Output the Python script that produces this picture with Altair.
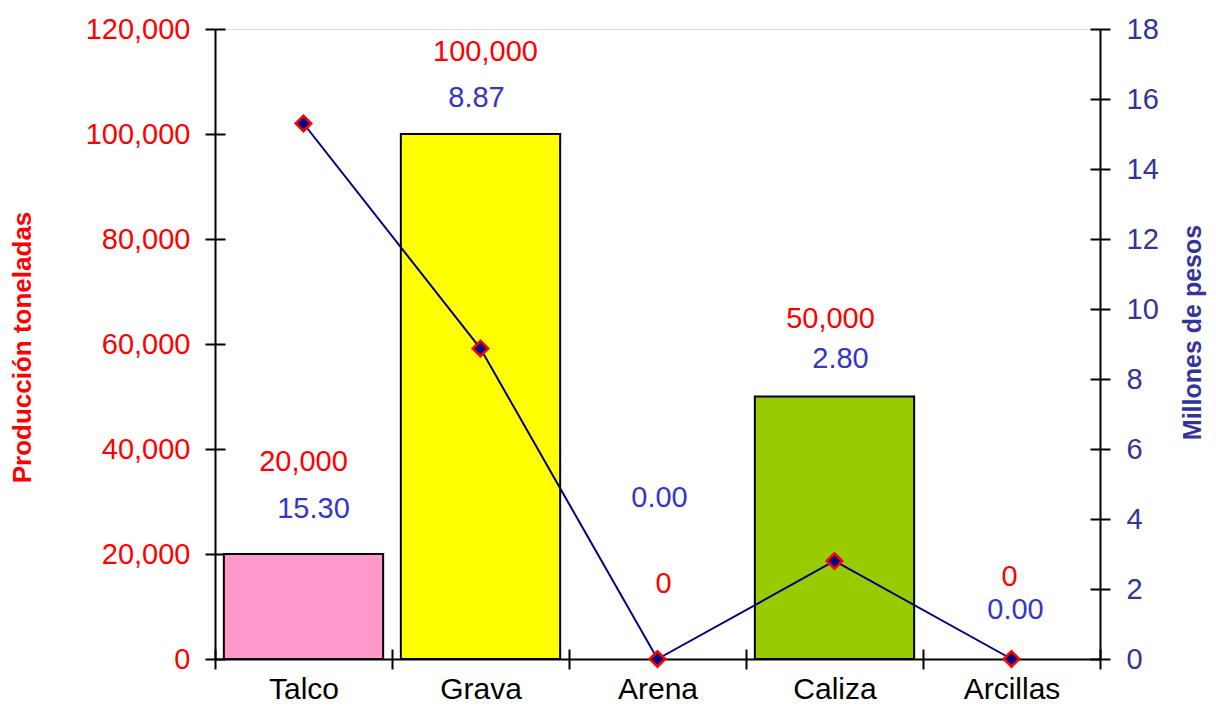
import altair as alt
import pandas as pd

categorias = ["Talco", "Grava", "Arena", "Caliza", "Arcillas"]
toneladas = [20000, 100000, 0, 50000, 0]
millones = [15.30, 8.87, 0.00, 2.80, 0.00]
colores = ["#FF99CC", "#FFFF00", "#FFFFFF", "#99CC00", "#FFFFFF"]

df = pd.DataFrame({"cat": categorias, "ton": toneladas, "mill": millones, "color": colores})

FONT = "Liberation Sans"
RED = "#FF0000"
BLUE_AX = "#333399"
BLUE_LB = "#3535C8"
W, H = 885, 630

xscale = alt.Scale(paddingInner=0, paddingOuter=0)
x = alt.X(
    "cat:N", sort=categorias, scale=xscale,
    axis=alt.Axis(orient="bottom", title=None, tickBand="extent", labelFontSize=30, labelFont=FONT,
                  labelColor="black", labelPadding=5, tickSize=10, tickWidth=2,
                  tickColor="black", domainColor="black", domainWidth=2, labelAngle=0),
)
x_inner = alt.X(
    "cat:N", sort=categorias, scale=xscale,
    axis=alt.Axis(orient="bottom", title=None, tickBand="extent", labels=False, domain=False,
                  offset=-10, tickSize=10, tickWidth=2, tickColor="black"),
)
x_none = alt.X("cat:N", sort=categorias, scale=xscale, axis=None)

yl_scale = alt.Scale(domain=[0, 120000])
yl_axis = alt.Axis(
    orient="left", values=list(range(0, 120001, 20000)), format=",.0f", grid=False,
    labelFontSize=29, labelFont=FONT, labelColor=RED, labelPadding=15,
    tickSize=10, tickWidth=2, tickColor="black", domainColor="black", domainWidth=2,
    title="Producción toneladas", titleFont=FONT, titleFontSize=26, titleFontWeight="bold",
    titleColor=RED, titleAngle=-90, titleX=-193, titleY=318, titleAlign="center",
    titleBaseline="middle",
)
yl_inner = alt.Axis(
    orient="left", values=list(range(0, 120001, 20000)), grid=False, labels=False,
    domain=False, offset=-10, tickSize=10, tickWidth=2, tickColor="black", title=None,
)
yr_scale = alt.Scale(domain=[0, 18])
yr_axis = alt.Axis(
    orient="right", values=list(range(0, 19, 2)), format="d", grid=False,
    labelFontSize=29, labelFont=FONT, labelColor=BLUE_AX, labelPadding=16,
    tickSize=10, tickWidth=2, tickColor="black", domainColor="black", domainWidth=2,
    title="Millones de pesos", titleFont=FONT, titleFontSize=25, titleFontWeight="bold",
    titleColor=BLUE_AX, titleAngle=-90, titleX=92, titleY=303, titleAlign="center",
    titleBaseline="middle",
)
yr_inner = alt.Axis(
    orient="right", values=list(range(0, 19, 2)), grid=False, labels=False,
    domain=False, offset=-10, tickSize=10, tickWidth=2, tickColor="black", title=None,
)

yl = alt.Y("ton:Q", scale=yl_scale, axis=yl_axis)
base = alt.Chart(df)

bars = base.transform_filter("datum.ton > 0").mark_bar(
    stroke="black", strokeWidth=2, width=alt.RelativeBandSize(0.9)
).encode(x=x, y=yl, color=alt.Color("color:N", scale=None))

# label offsets per category: (red dy, blue dy, red dx, blue dx)
offsets = {"Talco": (-92, -45, 0, 10), "Grava": (-82, -36, 5, -4), "Arena": (-75, -161, 6, 2),
           "Caliza": (-78, -38, -4, 6), "Arcillas": (-82, -49, -2, 4)}

labels = []
for c in categorias:
    r, b, rdx, bdx = offsets[c]
    sub = base.transform_filter(alt.datum.cat == c)
    labels.append(sub.mark_text(color=RED, font=FONT, fontSize=29, baseline="middle", dy=r, dx=rdx).encode(
        x=x, y=yl, text=alt.Text("ton:Q", format=",.0f")))
    labels.append(sub.mark_text(color=BLUE_LB, font=FONT, fontSize=29, baseline="middle", dy=b, dx=bdx).encode(
        x=x, y=yl, text=alt.Text("mill:Q", format=".2f")))

left = alt.layer(bars, *labels)

yr = alt.Y("mill:Q", scale=yr_scale, axis=yr_axis)
line = base.mark_line(color="#000080", strokeWidth=2).encode(x=x_none, y=yr)
pts = base.mark_point(shape="diamond", size=240, filled=True, fill="#000080", stroke=RED,
                      strokeWidth=2.5, opacity=1).encode(x=x_none, y=yr)
right = alt.layer(line, pts)

tick_l = base.mark_point(opacity=0).encode(x=x_inner, y=alt.Y("ton:Q", scale=yl_scale, axis=yl_inner))
tick_r = base.mark_point(opacity=0).encode(x=x_none, y=alt.Y("mill:Q", scale=yr_scale, axis=yr_inner))

chart = alt.layer(left, right, tick_l, tick_r).resolve_scale(y="independent").resolve_axis(
    x="independent").properties(
    width=W, height=H,
    autosize=alt.AutoSizeParams(type="none"),
    padding={"left": 207, "top": 21, "right": 108, "bottom": 49},
).configure_view(stroke=None).configure(background="white")

chart.save("out.html", embed_options={"renderer": "svg", "actions": False})
